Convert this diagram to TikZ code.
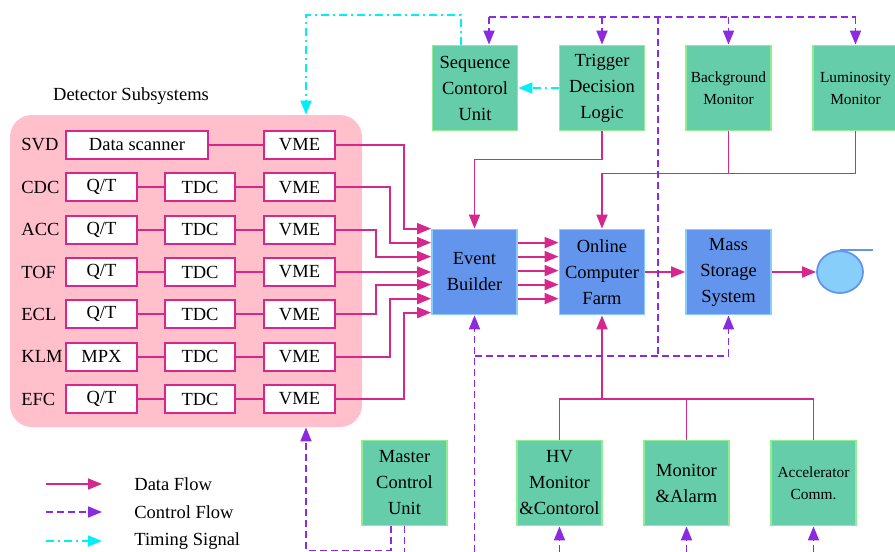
\documentclass[tikz,border=0pt]{standalone}
\usepackage{fontspec}
\setmainfont{Liberation Serif}
\usetikzlibrary{arrows.meta,shapes.geometric,calc}
\definecolor{mData}{HTML}{D6288C}
\definecolor{mCtrl}{HTML}{8A2BE2}
\definecolor{mTiming}{HTML}{00F0F8}
\definecolor{mPink}{HTML}{FFC0CB}
\definecolor{mGreen}{HTML}{66CDAA}
\definecolor{mGreenEdge}{HTML}{90EE90}
\definecolor{mBlue}{HTML}{6495ED}
\definecolor{mBlueEdge}{HTML}{87CEFA}

\begin{document}
\begin{tikzpicture}[x=0.5pt, y=-0.5pt, font=\fontsize{9.25}{13}\selectfont,
    tip/.style={-{Triangle[length=7pt,width=5.5pt]}},
    dline/.style={draw=mData, line width=0.9pt},
    data/.style={dline, tip},
    ctrl/.style={draw=mCtrl, line width=0.9pt, dash pattern=on 3.5pt off 2pt},
    ctrlarr/.style={ctrl, tip},
    timing/.style={draw=mTiming, line width=0.9pt, dash pattern=on 4pt off 2pt on 1pt off 2pt, tip},
    modbox/.style={draw=mData, fill=white, line width=0.9pt, minimum height=14pt, inner sep=0pt},
    unitbox/.style={draw=mGreenEdge, fill=mGreen, line width=0.9pt, minimum size=42.5pt, inner sep=0pt, align=center},
    small/.style={font=\fontsize{7.7}{11}\selectfont},
    procbox/.style={draw=mBlueEdge, fill=mBlue, line width=0.9pt, minimum size=42.5pt, inner sep=0pt, align=center}]
  \useasboundingbox (0,0) rectangle (895,552);

  % detector subsystems
  \node (dettitle) at (131,96) {Detector Subsystems};
  \node[fill=mPink, rounded corners=11pt, minimum width=176pt, minimum height=156pt] (det) at (186,271) {};
  \node[anchor=west, inner sep=0pt] (lab1) at (21,145) {SVD};
  \node[modbox, minimum width=71pt] (first1) at (137,145) {Data scanner};
  \node[modbox, minimum width=35.5pt] (vme1) at (299.5,145) {VME};
  \draw[dline] (first1) -- (vme1);
  \foreach \nm/\fst/\yy [count=\i from 2] in {CDC/{Q/T}/187.3, ACC/{Q/T}/229.7, TOF/{Q/T}/272,
      ECL/{Q/T}/314.3, KLM/MPX/356.7, EFC/{Q/T}/399} {
    \node[anchor=west, inner sep=0pt] (lab\i) at (21,\yy) {\nm};
    \node[modbox, minimum width=35.5pt] (first\i) at (101.5,\yy) {\fst};
    \node[modbox, minimum width=35pt] (tdc\i) at (200,\yy) {TDC};
    \node[modbox, minimum width=35.5pt] (vme\i) at (299.5,\yy) {VME};
    \draw[dline] (first\i) -- (tdc\i) -- (vme\i);
  }

  % online system
  \node[procbox] (eb) at (474.5,272) {Event\\Builder};
  \node[procbox] (ocf) at (602,272) {Online\\Computer\\Farm};
  \node[procbox] (mss) at (728.5,272) {Mass\\Storage\\System};
  \node[ellipse, draw=mBlue, fill=mBlueEdge, line width=0.9pt, minimum width=23pt, minimum height=21pt, inner sep=0pt] (disk) at (840,272) {};
  \draw[mBlue, line width=0.9pt] (disk.north) -- ++(33,0);

  \node[unitbox] (scu) at (475,88) {Sequence\\Contorol\\Unit};
  \node[unitbox] (tdl) at (602,88) {Trigger\\Decision\\Logic};
  \node[unitbox, small] (bgm) at (728.5,88) {Background\\Monitor};
  \node[unitbox, small] (lum) at (855.5,88) {Luminosity\\Monitor};

  \node[unitbox] (mcu) at (404.5,483) {Master\\Control\\Unit};
  \node[unitbox] (hv) at (559.5,483) {HV\\Monitor\\\&Contorol};
  \node[unitbox] (mal) at (686.5,483) {Monitor\\\&Alarm};
  \node[unitbox, small] (acc) at (813.5,483) {Accelerator\\Comm.};

  % data flow
  \foreach \i/\bx [evaluate=\i as \sh using -(\i-1)*7] in {1/404,2/390,3/376,5/376,6/390,7/404}
    \draw[data] (vme\i.east) -- (vme\i.east -| \bx,0) |- ([yshift=\sh pt]eb.north west);
  \draw[data] (vme4.east) -- (eb.west);
  \foreach \k in {1,...,5}
    \draw[data] ([yshift=-\k*7pt]eb.north east) -- ([yshift=-\k*7pt]ocf.north west);
  \draw[data] (ocf.east) -- (mss.west);
  \draw[data] (mss.east) -- (disk.west);
  \draw[data] (tdl.south) -- ++(0,28) -| (eb.north);
  \draw[dline] (bgm.south) -- ++(0,42);
  \draw[data] (lum.south) -- ++(0,42) -| (ocf.north);
  \coordinate (dbus) at (602,399);
  \draw[dline] (hv.north) |- (dbus) -| (acc.north);
  \draw[dline] (mal.north) -- (mal.north |- dbus);
  \draw[data] (dbus) -- (ocf.south);

  % control flow
  \coordinate (ctop) at (658,17);
  \coordinate (cmid) at (658,356);
  \draw[ctrl] ([xshift=7pt]scu.north |- ctop) -- (lum.north |- ctop);
  \draw[ctrlarr] ([xshift=7pt]scu.north |- ctop) -- ([xshift=7pt]scu.north);
  \foreach \n in {tdl,bgm,lum}
    \draw[ctrlarr] (\n.north |- ctop) -- (\n.north);
  \draw[ctrl] (ctop) -- (cmid);
  \draw[ctrl] (eb.south |- cmid) -- (mss.south |- cmid);
  \draw[ctrlarr] (mss.south |- cmid) -- (mss.south);
  \draw[ctrlarr] (eb.south |- 0,552) -- (eb.south);
  \foreach \n in {hv,mal,acc}
    \draw[ctrlarr] (\n.south |- 0,552) -- (\n.south);
  \draw[ctrlarr] ([xshift=-6.75pt]mcu.south) -- ++(0,24) -| ([xshift=60pt]det.south);
  \draw[ctrl] (mcu.south) -- ++(0,27);

  % timing
  \draw[timing] ([xshift=-7pt]scu.north) -- ++(0,-30) -| ([xshift=60pt]det.north);
  \draw[timing] (tdl.west) -- (scu.east);

  % legend
  \foreach \nm/\st/\yy [count=\i] in {Data Flow/data/484, Control Flow/ctrlarr/512, Timing Signal/timing/541} {
    \node[anchor=west, inner sep=0pt] (leg\i) at (134,\yy) {\nm};
    \coordinate (legs\i) at (46,\yy);
    \draw[\st] (legs\i) -- ([xshift=-16pt]leg\i.west);
  }
\end{tikzpicture}
\end{document}
